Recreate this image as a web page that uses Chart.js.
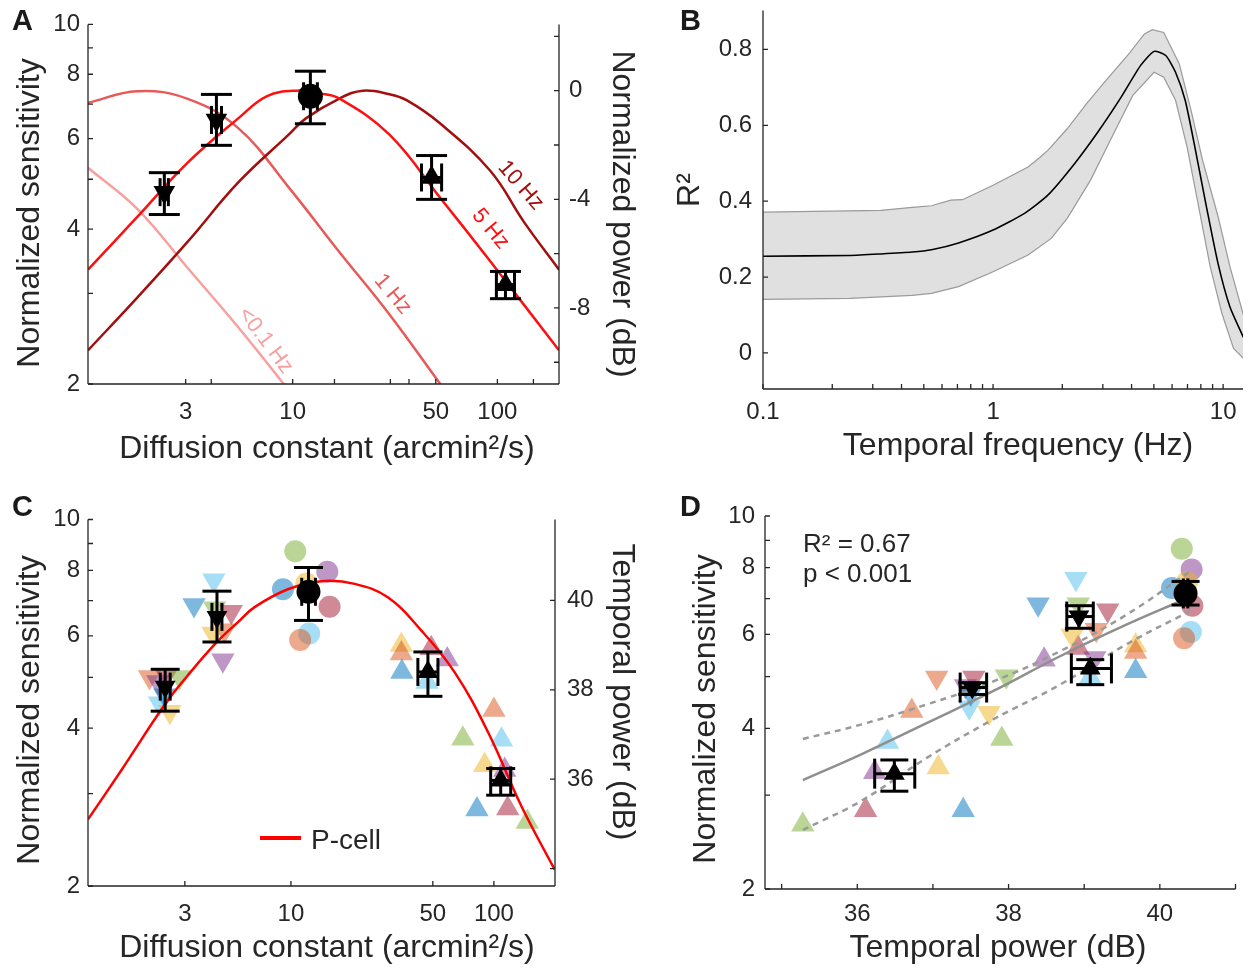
<!DOCTYPE html>
<html lang="en">
<head>
<meta charset="UTF-8">
<title>Sensitivity and diffusion</title>
<script src="https://cdn.jsdelivr.net/npm/chart.js"></script>
<style>
  body { margin: 0; background: #fff; }
  .fig { position: relative; width: 1249px; height: 970px; overflow: hidden; }
  .fig canvas { position: absolute; }
  .letter { position: absolute; font: bold 29px 'Liberation Sans', Arial, sans-serif; line-height: 1; color: #1a1a1a; }
</style>
</head>
<body>
<div class="fig">
  <canvas id="chartA" width="640" height="480" style="left:0px;top:0px"></canvas>
  <canvas id="chartB" width="609" height="495" style="left:640px;top:-15px"></canvas>
  <canvas id="chartC" width="640" height="480" style="left:0px;top:490px"></canvas>
  <canvas id="chartD" width="609" height="480" style="left:640px;top:490px"></canvas>
  <div class="letter" style="left:12px;top:6px">A</div>
  <div class="letter" style="left:680px;top:6px">B</div>
  <div class="letter" style="left:12px;top:492px">C</div>
  <div class="letter" style="left:680px;top:492px">D</div>
</div>

<script>
const FONT = "'Liberation Sans', Arial, sans-serif";
const INK = '#262626';
const TICK = 5;

// ---- panel A: sensitivity vs diffusion constant, with power curves ----
const aDiff = [2.36, 4.24, 12.2, 47.7, 109.5];
const aDiffLo = [2.25, 4.01, 11.3, 42.6, 98.9];
const aDiffHi = [2.47, 4.49, 13.2, 53.4, 121.2];
const aSens = [4.72, 6.52, 7.25, 5.04, 3.12];
const aSensLo = [4.27, 5.82, 6.41, 4.57, 2.93];
const aSensHi = [5.15, 7.31, 8.11, 5.56, 3.31];
const meanShape = ['down', 'down', 'circle', 'up', 'up'];

const lowHzD = [1, 1.74, 3.07, 5.42, 9.2];
const lowHzDb = [-2.84, -4.35, -6.53, -8.71, -10.87];
const oneHzD = [1, 1.74, 3.07, 5.42, 9.56, 16.9, 29.7, 53.4];
const oneHzDb = [-0.45, -0.02, -0.3, -1.38, -3.56, -5.94, -8.24, -10.87];
const fiveHzD = [1, 1.74, 3.07, 5.42, 7.5, 10.5, 13.5, 16.9, 29.7, 52.4, 92.5, 200];
const fiveHzDb = [-6.59, -4.65, -2.65, -1.02, -0.2, 0, -0.1, -0.29, -1.62, -3.93, -6.29, -9.56];
const tenHzD = [1, 1.74, 3.07, 5.42, 9.56, 11.6, 16.9, 22, 29.7, 36, 52.4, 92.5, 135, 200];
const tenHzDb = [-9.56, -7.62, -5.56, -3.38, -1.62, -1.02, -0.29, 0, -0.13, -0.35, -1.2, -2.96, -4.84, -6.59];

const hzLabels = ['10 Hz', '5 Hz', '1 Hz', '<0.1 Hz'];
const hzColors = ['#a30f0f', '#ff1010', '#e85a5a', '#f8a0a0'];
const hzLabelD = [130, 92.5, 30.8, 7.36];
const hzLabelDb = [-3.49, -5.09, -7.49, -9.2];
const hzLabelAngle = [49, 50, 50, 53];

const diffTicks = [3, 10, 50, 100];
const diffLabels = ['3', '10', '50', '100'];
const diffMinorA = [4, 16, 30, 37, 150];
const sensTicks = [2, 4, 6, 8, 10];
const sensLabels = ['2', '4', '6', '8', '10'];
const sensMinor = [3, 5, 7, 9];
const normPowTicks = [0, -4, -8];
const normPowLabels = ['0', '-4', '-8'];
const normPowMinor = [2, -2, -6, -10];

// ---- panel B: R^2 vs temporal frequency ----
const bMeanF = [0.1, 0.239, 0.326, 0.445, 0.54, 0.708, 1.0, 1.37, 1.73, 2.26, 2.86, 3.61, 4.38, 5.01, 5.63, 6.21, 6.84, 7.54, 8.47, 9.51, 10.7, 12.25];
const bMeanR2 = [0.255, 0.257, 0.261, 0.266, 0.272, 0.290, 0.324, 0.368, 0.416, 0.499, 0.583, 0.675, 0.758, 0.795, 0.784, 0.740, 0.666, 0.542, 0.384, 0.235, 0.122, 0.041];
const bUpF = [0.1, 0.326, 0.445, 0.54, 0.655, 0.736, 1.0, 1.42, 1.60, 1.73, 2.10, 2.55, 3.09, 3.90, 4.55, 4.92, 5.52, 6.45, 7.25, 8.14, 9.51, 10.7, 12.25];
const bUpR2 = [0.371, 0.376, 0.384, 0.388, 0.403, 0.404, 0.442, 0.490, 0.516, 0.534, 0.591, 0.657, 0.718, 0.789, 0.841, 0.852, 0.845, 0.762, 0.640, 0.508, 0.359, 0.228, 0.100];
const bLoF = [0.1, 0.239, 0.445, 0.54, 0.708, 1.0, 1.42, 1.79, 2.10, 2.65, 3.34, 4.05, 5.01, 5.52, 6.21, 6.97, 7.83, 8.79, 9.88, 11.1, 12.25];
const bLoR2 = [0.141, 0.144, 0.152, 0.157, 0.175, 0.214, 0.258, 0.302, 0.355, 0.455, 0.578, 0.679, 0.740, 0.727, 0.666, 0.543, 0.385, 0.227, 0.104, 0.012, -0.014];

const freqTicks = [0.1, 1, 10];
const freqLabels = ['0.1', '1', '10'];
const freqMinor = [0.2, 0.3, 0.4, 0.5, 0.6, 0.7, 0.8, 0.9, 2, 3, 4, 5, 6, 7, 8, 9];
const r2Ticks = [0, 0.2, 0.4, 0.6, 0.8];
const r2Labels = ['0', '0.2', '0.4', '0.6', '0.8'];

// ---- panel C: individual sensitivities with P-cell temporal power ----
// colour index: 0 blue, 1 orange, 2 yellow, 3 purple, 4 green, 5 light blue, 6 dark red
const subjColors = ['rgba(0,114,189,0.5)', 'rgba(217,83,25,0.5)', 'rgba(237,177,32,0.5)', 'rgba(126,47,142,0.5)',
                    'rgba(119,172,48,0.5)', 'rgba(77,190,238,0.5)', 'rgba(162,20,47,0.5)'];

const cDownD = [2.01, 2.43, 2.83, 2.21, 2.25, 2.53, 2.39, 4.17, 3.33, 4.21, 5.08, 4.71, 4.13, 4.62];
const cDownS = [5.01, 5.04, 5.01, 4.90, 4.46, 4.30, 4.62, 7.66, 6.87, 6.77, 6.67, 6.15, 6.06, 5.39];
const cDownCol = [1, 6, 4, 3, 5, 2, 0, 5, 0, 4, 6, 1, 2, 3];
const cCircD = [10.5, 15.1, 9.13, 11.9, 15.5, 12.3, 11.1];
const cCircS = [8.70, 7.95, 7.36, 7.55, 6.82, 6.06, 5.89];
const cCircCol = [4, 3, 0, 2, 6, 5, 1];
const cUpD = [35.0, 35.0, 35.2, 49.1, 58.9, 46.9, 100, 70.3, 109, 90, 113, 82.5, 117, 146];
const cUpS = [5.76, 5.55, 5.12, 5.68, 5.41, 4.90, 4.33, 3.82, 3.80, 3.40, 3.33, 2.80, 2.81, 2.65];
const cUpCol = [2, 1, 0, 6, 3, 5, 1, 4, 5, 2, 3, 0, 6, 4];

const cDiff = [2.40, 4.32, 12.2, 47.3, 108];
const cDiffLo = [2.27, 4.08, 11.3, 42.2, 96.4];
const cDiffHi = [2.54, 4.57, 13.2, 53.0, 121];
const cSens = [4.80, 6.52, 7.28, 5.12, 3.18];
const cSensLo = [4.31, 5.84, 6.42, 4.60, 2.98];
const cSensHi = [5.18, 7.30, 8.10, 5.59, 3.35];

const pCellD = [1, 1.46, 2.40, 3.1, 4.32, 5.47, 6.62, 9.66, 14.1, 20.6, 30.0, 43.8, 64.1, 93.6, 136.5, 199];
const pCellDb = [35.10, 36.20, 37.68, 38.32, 39.07, 39.51, 39.85, 40.25, 40.43, 40.37, 40.07, 39.33, 38.39, 37.05, 35.40, 33.98];

const cPowTicks = [36, 38, 40];
const cPowLabels = ['36', '38', '40'];
const cPowMinor = [34];

// ---- panel D: sensitivity vs temporal power ----
const dDownP = [37.05, 37.54, 37.43, 37.97, 37.48, 37.74, 37.50, 38.89, 38.39, 38.92, 39.31, 39.16, 38.84, 39.14];
const dDownS = [4.98, 4.98, 4.80, 5.01, 4.38, 4.28, 4.65, 7.63, 6.83, 6.83, 6.66, 6.12, 5.97, 5.42];
const dDownCol = [1, 6, 3, 4, 5, 2, 0, 5, 0, 4, 6, 1, 2, 3];
const dCircP = [40.29, 40.42, 40.16, 40.36, 40.43, 40.41, 40.32];
const dCircS = [8.68, 7.94, 7.33, 7.52, 6.79, 6.06, 5.90];
const dCircCol = [4, 3, 0, 2, 6, 5, 1];
const dUpP = [38.47, 38.92, 39.68, 39.68, 39.68, 39.08, 35.28, 36.11, 36.23, 36.40, 36.72, 37.07, 37.40, 37.91];
const dUpS = [5.38, 5.66, 5.72, 5.56, 5.12, 4.98, 2.64, 2.81, 3.31, 3.77, 4.31, 3.38, 2.81, 3.82];
const dUpCol = [3, 6, 2, 1, 0, 5, 4, 6, 3, 5, 1, 2, 0, 4];

const dPow = [36.49, 37.52, 38.93, 39.08, 40.34];
const dPowLo = [36.23, 37.36, 38.77, 38.83, 40.31];
const dPowHi = [36.76, 37.71, 39.12, 39.36, 40.37];
const dSens = [3.29, 4.77, 6.48, 5.18, 7.16];
const dSensLo = [3.05, 4.63, 6.16, 4.83, 6.81];
const dSensHi = [3.49, 4.87, 6.79, 5.38, 7.54];
const dShape = ['up', 'down', 'down', 'up', 'circle'];

const fitP = [35.28, 36.06, 36.93, 37.80, 38.68, 39.55, 40.34];
const fitS = [3.20, 3.58, 4.10, 4.70, 5.46, 6.25, 6.99];
const ciP = [35.28, 36.06, 36.93, 37.80, 38.68, 39.55, 40.42];
const ciHiS = [3.82, 4.07, 4.44, 4.90, 5.58, 6.52, 7.91];
const ciLoS = [2.58, 2.93, 3.53, 4.16, 4.83, 5.74, 6.66];

const dPowTicks = [36, 38, 40];
const dPowLabels = ['36', '38', '40'];
const dPowMinor = [35, 37, 39, 41];

// ---------- helpers ----------
const pts = (xs, ys) => xs.map((x, i) => ({ x: x, y: ys[i] }));

function lineSet(xs, ys, color, width, yAxisID, extra) {
  return Object.assign({
    data: pts(xs, ys), showLine: true, borderColor: color, borderWidth: width,
    pointRadius: 0, fill: false, tension: 0.4, yAxisID: yAxisID
  }, extra || {});
}

function markerSet(xs, ys, shapes, colors, r, order, yAxisID) {
  return {
    data: pts(xs, ys), showLine: false, yAxisID: yAxisID || 'y',
    pointStyle: shapes.map(s => s === 'circle' ? 'circle' : 'triangle'),
    pointRotation: shapes.map(s => s === 'down' ? 180 : 0),
    pointRadius: r, pointBackgroundColor: colors, pointBorderWidth: 0,
    pointBorderColor: 'rgba(0,0,0,0)', order: order
  };
}

function axis(o) {
  return {
    type: o.type, position: o.pos, min: o.min, max: o.max,
    grid: { display: false, drawTicks: false }, border: { display: false },
    afterBuildTicks: s => { s.ticks = o.ticks.map(v => ({ value: v })); },
    afterFit: s => { if (o.pos === 'bottom') s.height = o.size; else s.width = o.size; },
    ticks: {
      padding: o.pad, color: INK, autoSkip: false, maxRotation: 0,
      font: { family: FONT, size: 24 },
      callback: v => { const i = o.ticks.indexOf(v); return i < 0 ? '' : o.labels[i]; }
    },
    title: { display: false }
  };
}

// axis titles, centred where the source figure puts them (canvas coordinates)
function titles(list) {
  return {
    id: 'titles',
    afterDraw(chart) {
      const c = chart.ctx;
      c.save();
      c.fillStyle = INK; c.font = '32px ' + FONT; c.textAlign = 'center'; c.textBaseline = 'middle';
      list.forEach(t => {
        c.save(); c.translate(t[1], t[2]); c.rotate(t[3] * Math.PI / 180); c.fillText(t[0], 0, 0); c.restore();
      });
      c.restore();
    }
  };
}

// spines and inward tick marks, like the source figure
function frame(spec) {
  return {
    id: 'frame',
    afterDraw(chart) {
      const c = chart.ctx, a = chart.chartArea;
      c.save();
      c.strokeStyle = INK; c.lineWidth = 1.3;
      spec.forEach(s => {
        const sc = chart.scales[s.id];
        const vals = s.major.concat(s.minor || []);
        c.beginPath();
        if (s.side === 'bottom') {
          c.moveTo(a.left, a.bottom); c.lineTo(a.right, a.bottom);
          vals.forEach(v => { const p = sc.getPixelForValue(v); c.moveTo(p, a.bottom); c.lineTo(p, a.bottom - TICK); });
        } else {
          const x = s.side === 'left' ? a.left : a.right;
          const d = s.side === 'left' ? TICK : -TICK;
          c.moveTo(x, a.top); c.lineTo(x, a.bottom);
          vals.forEach(v => { const p = sc.getPixelForValue(v); c.moveTo(x, p); c.lineTo(x + d, p); });
        }
        c.stroke();
      });
      c.restore();
    }
  };
}

function errorBars(sets) {
  return {
    id: 'errorBars',
    afterDatasetsDraw(chart) {
      const c = chart.ctx;
      c.save();
      c.strokeStyle = '#000'; c.lineWidth = 3;
      const seg = (x1, y1, x2, y2) => { c.beginPath(); c.moveTo(x1, y1); c.lineTo(x2, y2); c.stroke(); };
      sets.forEach(s => {
        const xs = chart.scales[s.xAxis], ys = chart.scales[s.yAxis];
        s.x.forEach((xv, i) => {
          const px = xs.getPixelForValue(xv), py = ys.getPixelForValue(s.y[i]);
          const t = ys.getPixelForValue(s.yHi[i]), b = ys.getPixelForValue(s.yLo[i]);
          seg(px, t, px, b);
          seg(px - s.capW / 2, t, px + s.capW / 2, t);
          seg(px - s.capW / 2, b, px + s.capW / 2, b);
          const l = xs.getPixelForValue(s.xLo[i]), r = xs.getPixelForValue(s.xHi[i]);
          seg(l, py, r, py);
          seg(l, py - s.capH / 2, l, py + s.capH / 2);
          seg(r, py - s.capH / 2, r, py + s.capH / 2);
        });
      });
      c.restore();
    }
  };
}

const baseOptions = (pad, scales) => ({
  responsive: false, animation: false, events: [],
  layout: { padding: pad },
  plugins: { legend: { display: false }, tooltip: { enabled: false } },
  scales: scales
});

// ---------- panel A ----------
const hzText = {
  id: 'hzText',
  afterDatasetsDraw(chart) {
    const c = chart.ctx, xs = chart.scales.x, ys = chart.scales.y2;
    c.save();
    c.font = '22px ' + FONT; c.textAlign = 'center'; c.textBaseline = 'middle';
    hzLabels.forEach((t, i) => {
      c.save();
      c.translate(xs.getPixelForValue(hzLabelD[i]), ys.getPixelForValue(hzLabelDb[i]));
      c.rotate(hzLabelAngle[i] * Math.PI / 180);
      c.fillStyle = hzColors[i];
      c.fillText(t, 0, 0);
      c.restore();
    });
    c.restore();
  }
};

new Chart(document.getElementById('chartA'), {
  type: 'scatter',
  data: {
    datasets: [
      markerSet(aDiff, aSens, meanShape, '#000', 12.5, 0),
      lineSet(tenHzD, tenHzDb, hzColors[0], 2.5, 'y2', { order: 2 }),
      lineSet(fiveHzD, fiveHzDb, hzColors[1], 2.5, 'y2', { order: 1 }),
      lineSet(oneHzD, oneHzDb, hzColors[2], 2.5, 'y2', { order: 3 }),
      lineSet(lowHzD, lowHzDb, hzColors[3], 2.5, 'y2', { order: 4 })
    ]
  },
  options: baseOptions({ top: 20, left: 0, right: 0, bottom: 0 }, {
    x: axis({ type: 'logarithmic', pos: 'bottom', min: 1, max: 200, ticks: diffTicks, labels: diffLabels, size: 96, pad: 14 }),
    y: axis({ type: 'logarithmic', pos: 'left', min: 2, max: 10, ticks: sensTicks, labels: sensLabels, size: 88, pad: 8 }),
    y2: axis({ type: 'linear', pos: 'right', min: -10.8, max: 2.44, ticks: normPowTicks, labels: normPowLabels, size: 81, pad: 10 })
  }),
  plugins: [
    hzText,
    errorBars([{ x: aDiff, y: aSens, yLo: aSensLo, yHi: aSensHi, xLo: aDiffLo, xHi: aDiffHi,
                 xAxis: 'x', yAxis: 'y', capW: 31, capH: 28 }]),
    frame([
      { id: 'x', side: 'bottom', major: diffTicks, minor: diffMinorA },
      { id: 'y', side: 'left', major: sensTicks, minor: sensMinor },
      { id: 'y2', side: 'right', major: normPowTicks, minor: normPowMinor }
    ]),
    titles([
      ['Normalized sensitivity', 30, 213, -90],
      ['Normalized power (dB)', 622, 214, 90],
      ['Diffusion constant (arcmin²/s)', 327, 449, 0]
    ])
  ]
});

// ---------- panel B ----------
new Chart(document.getElementById('chartB'), {
  type: 'scatter',
  data: {
    datasets: [
      lineSet(bUpF, bUpR2, '#9a9a9a', 1.2, 'y', { fill: '+1', backgroundColor: '#e0e0e0', order: 3, tension: 0 }),
      lineSet(bLoF, bLoR2, '#9a9a9a', 1.2, 'y', { order: 2, tension: 0 }),
      lineSet(bMeanF, bMeanR2, '#000', 1.6, 'y', { order: 1, tension: 0.2 })
    ]
  },
  options: baseOptions({ top: 25, left: 0, right: 6, bottom: 0 }, {
    x: axis({ type: 'logarithmic', pos: 'bottom', min: 0.1, max: 12.2, ticks: freqTicks, labels: freqLabels, size: 91, pad: 9 }),
    y: axis({ type: 'linear', pos: 'left', min: -0.095, max: 0.903, ticks: r2Ticks, labels: r2Labels, size: 123, pad: 11 })
  }),
  plugins: [
    frame([
      { id: 'x', side: 'bottom', major: freqTicks, minor: freqMinor },
      { id: 'y', side: 'left', major: r2Ticks }
    ]),
    titles([
      ['R²', 50, 205, -90],
      ['Temporal frequency (Hz)', 378, 461, 0]
    ])
  ]
});

// ---------- panel C ----------
const pCellLegend = {
  id: 'pCellLegend',
  afterDatasetsDraw(chart) {
    const c = chart.ctx, a = chart.chartArea;
    c.save();
    c.strokeStyle = '#ff0000'; c.lineWidth = 4;
    c.beginPath(); c.moveTo(a.left + 172, a.top + 318.5); c.lineTo(a.left + 213, a.top + 318.5); c.stroke();
    c.fillStyle = INK; c.font = '28px ' + FONT; c.textBaseline = 'alphabetic';
    c.fillText('P-cell', a.left + 223, a.top + 329);
    c.restore();
  }
};

new Chart(document.getElementById('chartC'), {
  type: 'scatter',
  data: {
    datasets: [
      markerSet(cDiff, cSens, meanShape, '#000', 12, 0),
      lineSet(pCellD, pCellDb, '#ff0000', 2.5, 'y2', { order: 1 }),
      markerSet(cDownD, cDownS, cDownD.map(() => 'down'), cDownCol.map(i => subjColors[i]), 13.5, 2),
      markerSet(cCircD, cCircS, cCircD.map(() => 'circle'), cCircCol.map(i => subjColors[i]), 11, 2),
      markerSet(cUpD, cUpS, cUpD.map(() => 'up'), cUpCol.map(i => subjColors[i]), 13.5, 2)
    ]
  },
  options: baseOptions({ top: 29.5, left: 0, right: 0, bottom: 0 }, {
    x: axis({ type: 'logarithmic', pos: 'bottom', min: 1, max: 200, ticks: diffTicks, labels: diffLabels, size: 84, pad: 14 }),
    y: axis({ type: 'logarithmic', pos: 'left', min: 2, max: 10, ticks: sensTicks, labels: sensLabels, size: 88, pad: 8 }),
    y2: axis({ type: 'linear', pos: 'right', min: 33.61, max: 41.81, ticks: cPowTicks, labels: cPowLabels, size: 85, pad: 12 })
  }),
  plugins: [
    pCellLegend,
    errorBars([{ x: cDiff, y: cSens, yLo: cSensLo, yHi: cSensHi, xLo: cDiffLo, xHi: cDiffHi,
                 xAxis: 'x', yAxis: 'y', capW: 29, capH: 28 }]),
    frame([
      { id: 'x', side: 'bottom', major: diffTicks },
      { id: 'y', side: 'left', major: sensTicks, minor: sensMinor },
      { id: 'y2', side: 'right', major: cPowTicks, minor: cPowMinor }
    ]),
    titles([
      ['Normalized sensitivity', 30, 220, -90],
      ['Temporal power (dB)', 622, 202, 90],
      ['Diffusion constant (arcmin²/s)', 327, 458, 0]
    ])
  ]
});

// ---------- panel D ----------
const statsText = {
  id: 'statsText',
  afterDatasetsDraw(chart) {
    const c = chart.ctx, a = chart.chartArea;
    c.save();
    c.fillStyle = INK; c.font = '26px ' + FONT; c.textBaseline = 'alphabetic';
    c.fillText('R² = 0.67', a.left + 38, a.top + 36);
    c.fillText('p < 0.001', a.left + 38, a.top + 66);
    c.restore();
  }
};

new Chart(document.getElementById('chartD'), {
  type: 'scatter',
  data: {
    datasets: [
      markerSet(dPow, dSens, dShape, '#000', 12, 0),
      lineSet(fitP, fitS, '#8f8f8f', 2.5, 'y', { order: 1 }),
      lineSet(ciP, ciHiS, '#9a9a9a', 2.5, 'y', { order: 1, borderDash: [6, 5] }),
      lineSet(ciP, ciLoS, '#9a9a9a', 2.5, 'y', { order: 1, borderDash: [6, 5] }),
      markerSet(dDownP, dDownS, dDownP.map(() => 'down'), dDownCol.map(i => subjColors[i]), 13.5, 2),
      markerSet(dCircP, dCircS, dCircP.map(() => 'circle'), dCircCol.map(i => subjColors[i]), 11, 2),
      markerSet(dUpP, dUpS, dUpP.map(() => 'up'), dUpCol.map(i => subjColors[i]), 13.5, 2)
    ]
  },
  options: baseOptions({ top: 26, left: 0, right: 9, bottom: 0 }, {
    x: axis({ type: 'linear', pos: 'bottom', min: 34.78, max: 41, ticks: dPowTicks, labels: dPowLabels, size: 81, pad: 11 }),
    y: axis({ type: 'logarithmic', pos: 'left', min: 2, max: 10, ticks: sensTicks, labels: sensLabels, size: 125, pad: 10 })
  }),
  plugins: [
    statsText,
    errorBars([{ x: dPow, y: dSens, yLo: dSensLo, yHi: dSensHi, xLo: dPowLo, xHi: dPowHi,
                 xAxis: 'x', yAxis: 'y', capW: 28, capH: 30 }]),
    frame([
      { id: 'x', side: 'bottom', major: dPowTicks, minor: dPowMinor },
      { id: 'y', side: 'left', major: sensTicks, minor: sensMinor }
    ]),
    titles([
      ['Normalized sensitivity', 66, 219, -90],
      ['Temporal power (dB)', 358, 458, 0]
    ])
  ]
});
</script>
</body>
</html>
